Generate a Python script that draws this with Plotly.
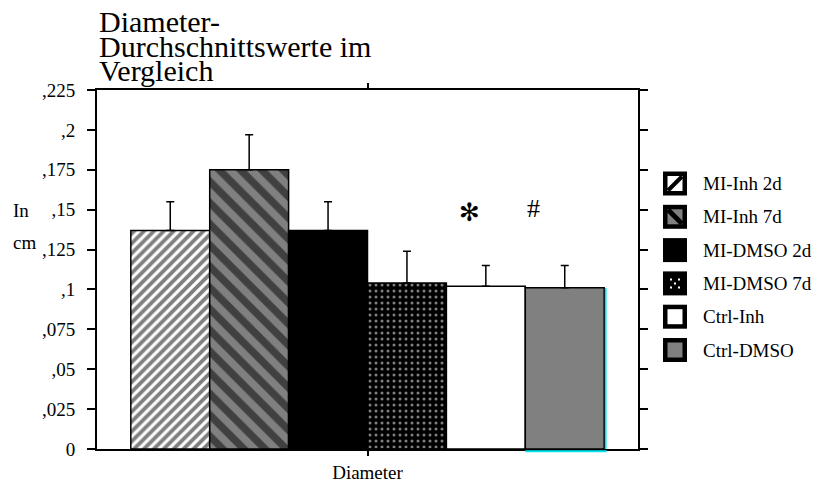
import plotly.graph_objects as go

# ---- data -------------------------------------------------------------
category = ["Diameter"]
groups = ["MI-Inh 2d", "MI-Inh 7d", "MI-DMSO 2d", "MI-DMSO 7d", "Ctrl-Inh", "Ctrl-DMSO"]
means = [0.137, 0.175, 0.137, 0.104, 0.102, 0.101]
errors = [0.018, 0.022, 0.018, 0.020, 0.013, 0.014]
ytick_vals = [0, 0.025, 0.05, 0.075, 0.1, 0.125, 0.15, 0.175, 0.2, 0.225]
ytick_text = ["0", ",025", ",05", ",075", ",1", ",125", ",15", ",175", ",2", ",225"]

# ---- styling ----------------------------------------------------------
W, H = 818, 483
ML, MR, MT, MB = 97, 180, 90, 34
PW, PH = W - ML - MR, H - MT - MB
SERIF = "Liberation Serif, Times New Roman, serif"
GREY = "#808080"
BARGAP = 0.125
FS = 19

styles = [
    dict(color="white", pattern=dict(shape="/", fgcolor="black", bgcolor="white", size=7, solidity=0.55)),
    dict(color=GREY, pattern=dict(shape="\\", fgcolor="black", bgcolor=GREY, size=15, solidity=0.5)),
    dict(color="black"),
    dict(color="black", pattern=dict(shape=".", fgcolor="white", bgcolor="black", size=6, solidity=0.2)),
    dict(color="white"),
    dict(color=GREY),
]


def px(x):
    return (x - ML) / PW


def py(y):
    return (H - MB - y) / PH


fig = go.Figure()
for name, m, e, st in zip(groups, means, errors, styles):
    marker = dict(color=st["color"], line=dict(color="black", width=1.5))
    if "pattern" in st:
        marker["pattern"] = st["pattern"]
    fig.add_trace(go.Bar(
        name=name, x=category, y=[m], marker=marker, showlegend=False,
        error_y=dict(type="data", symmetric=False, array=[e], arrayminus=[0],
                     color="black", thickness=1.5, width=4),
    ))

# cyan edge along the right and bottom of the last bar
bw = (1 - BARGAP) / len(groups)
right = -0.5 + BARGAP / 2 + len(groups) * bw
left = right - bw
unit = 1 / PW
shapes = [
    dict(type="rect", xref="x", yref="y", x0=right + 0.7 * unit, x1=right + 2.4 * unit,
         y0=0, y1=means[-1], fillcolor="#00e5f0", line=dict(width=0), layer="above"),
    dict(type="rect", xref="x", yref="paper", x0=left, x1=right + 2.4 * unit,
         y0=-3.3 / PH, y1=-1.2 / PH, fillcolor="#00e5f0", line=dict(width=0), layer="above"),
]

# legend swatches
annotations = []
for i, name in enumerate(groups):
    c = 183.5 + i * 33.3
    shapes.append(dict(type="rect", xref="paper", yref="paper",
                       x0=px(663), x1=px(687), y0=py(c + 12), y1=py(c - 12),
                       fillcolor="black", line=dict(width=0)))
    inner = {0: "white", 1: GREY, 4: "white", 5: GREY}.get(i)
    if inner:
        shapes.append(dict(type="rect", xref="paper", yref="paper",
                           x0=px(667.5), x1=px(682.5), y0=py(c + 7.5), y1=py(c - 7.5),
                           fillcolor=inner, line=dict(width=0)))
    if i == 0:
        shapes.append(dict(type="line", xref="paper", yref="paper",
                           x0=px(668), y0=py(c + 7), x1=px(682), y1=py(c - 7),
                           line=dict(color="black", width=4)))
    if i == 1:
        shapes.append(dict(type="line", xref="paper", yref="paper",
                           x0=px(668), y0=py(c - 7), x1=px(682), y1=py(c + 7),
                           line=dict(color="black", width=5)))
    if i == 3:
        for dx, dy in [(-4, -4), (4, -4), (0, 0), (-4, 4), (4, 4)]:
            shapes.append(dict(type="rect", xref="paper", yref="paper",
                               x0=px(675 + dx - 1), x1=px(675 + dx + 1),
                               y0=py(c + dy + 1), y1=py(c + dy - 1),
                               fillcolor="white", line=dict(width=0)))
    annotations.append(dict(text=name, xref="paper", yref="paper", x=px(701), y=py(c),
                            xanchor="left", yanchor="middle", showarrow=False,
                            font=dict(family=SERIF, size=FS, color="black")))

# title lines
for line, yc in zip(["Diameter-", "Durchschnittswerte im", "Vergleich"], [21, 46, 71]):
    annotations.append(dict(text=line, xref="paper", yref="paper", x=px(97), y=py(yc),
                            xanchor="left", yanchor="middle", showarrow=False,
                            font=dict(family=SERIF, size=30, color="black")))

# unit label
for line, yc in zip(["In", "cm"], [210, 242]):
    annotations.append(dict(text=line, xref="paper", yref="paper", x=px(11), y=py(yc),
                            xanchor="left", yanchor="middle", showarrow=False,
                            font=dict(family=SERIF, size=FS, color="black")))

# significance marks
annotations.append(dict(text="\u273B", xref="paper", yref="paper", x=px(469), y=py(212),
                        xanchor="center", yanchor="middle", showarrow=False,
                        font=dict(family="DejaVu Sans", size=25, color="black")))
annotations.append(dict(text="#", xref="paper", yref="paper", x=px(533.5), y=py(208),
                        xanchor="center", yanchor="middle", showarrow=False,
                        font=dict(family=SERIF, size=26, color="black")))

fig.update_layout(
    width=W, height=H,
    margin=dict(l=ML, r=MR, t=MT, b=MB, autoexpand=False),
    paper_bgcolor="white", plot_bgcolor="white",
    barmode="group", bargap=BARGAP, bargroupgap=0,
    shapes=shapes, annotations=annotations,
    xaxis=dict(type="category", automargin=False, showline=True, linecolor="black", linewidth=2,
               mirror="ticks", ticks="outside", ticklen=5, tickwidth=1.5, tickcolor="black",
               showgrid=False, zeroline=False,
               tickfont=dict(family=SERIF, size=FS, color="black")),
    yaxis=dict(range=[0, 0.225], automargin=False, tickvals=ytick_vals, ticktext=ytick_text,
               showline=True, linecolor="black", linewidth=2, mirror="ticks",
               ticks="outside", ticklen=8, tickwidth=1.5, tickcolor="black",
               ticklabelstandoff=8, showgrid=False, zeroline=False,
               tickfont=dict(family=SERIF, size=FS, color="black")),
)

fig.write_html("out.html")
